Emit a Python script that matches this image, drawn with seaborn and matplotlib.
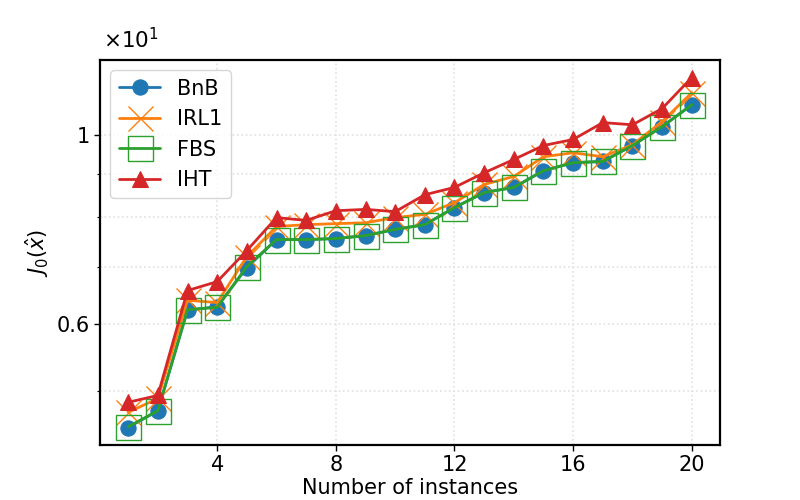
import numpy as np
import pandas as pd
import seaborn as sns
from matplotlib import pyplot as plt
from matplotlib import ticker

# objective value J0 for each instance
instances = list(range(1, 21))
bnb = [4.53, 4.74, 6.22, 6.28, 6.98, 7.53, 7.53, 7.55, 7.61, 7.74,
       7.84, 8.21, 8.55, 8.67, 9.07, 9.27, 9.30, 9.71, 10.22, 10.84]
irl1 = [4.72, 4.90, 6.39, 6.35, 7.19, 7.80, 7.84, 7.86, 7.88, 7.99,
        8.06, 8.32, 8.74, 8.93, 9.42, 9.52, 9.42, 9.73, 10.36, 11.20]
fbs = [4.54, 4.74, 6.23, 6.27, 7.00, 7.53, 7.53, 7.55, 7.61, 7.74,
       7.84, 8.21, 8.55, 8.67, 9.07, 9.27, 9.30, 9.71, 10.22, 10.84]
iht = [4.85, 4.94, 6.56, 6.72, 7.31, 7.99, 7.93, 8.14, 8.17, 8.12,
       8.50, 8.67, 9.02, 9.35, 9.71, 9.87, 10.33, 10.27, 10.73, 11.67]

df = pd.DataFrame({"instance": instances, "BnB": bnb, "IRL1": irl1,
                   "FBS": fbs, "IHT": iht})

sns.set_style("white")
plt.rcParams['font.family'] = ['DejaVu Sans']
plt.rcParams.update({"text.color": "black", "axes.labelcolor": "black",
                     "xtick.color": "black", "ytick.color": "black"})

fig, ax = plt.subplots(figsize=(8, 5), dpi=100)

sns.lineplot(ax=ax, data=df, x="instance", y="BnB", label="BnB", color="tab:blue",
             marker="o", markersize=11, markeredgecolor="tab:blue", linewidth=2)
sns.lineplot(ax=ax, data=df, x="instance", y="IRL1", label="IRL1", color="tab:orange",
             marker="x", markersize=18, markeredgewidth=1,
             markeredgecolor="tab:orange", linewidth=2)
sns.lineplot(ax=ax, data=df, x="instance", y="FBS", label="FBS", color="tab:green",
             marker="s", markersize=18, markerfacecolor="none", markeredgewidth=1,
             markeredgecolor="tab:green", linewidth=2)
sns.lineplot(ax=ax, data=df, x="instance", y="IHT", label="IHT", color="tab:red",
             marker="^", markersize=11, markeredgecolor="tab:red", linewidth=2)

ax.set_yscale("log")
ax.yaxis.set_major_locator(ticker.FixedLocator([6, 10]))
ax.yaxis.set_major_formatter(ticker.FixedFormatter(["0.6", "1"]))
ax.yaxis.set_minor_locator(ticker.FixedLocator([5, 7, 8, 9]))
ax.yaxis.set_minor_formatter(ticker.NullFormatter())
ax.set_xticks([4, 8, 12, 16, 20])

ax.grid(True, which="both", linestyle=":", color="#e0e0e0", linewidth=1.2)
ax.tick_params(axis="both", which="major", labelsize=15, direction="out",
               length=4, width=1, left=True, bottom=True)
ax.tick_params(axis="y", which="minor", length=2.5, width=0.8, left=True)
for s in ax.spines.values():
    s.set_linewidth(1.6)
    s.set_color("black")

ax.set_xlabel("Number of instances", fontsize=15, labelpad=2)
ax.set_ylabel(r"$J_0(\hat{x})$", fontsize=15)
ax.text(0.005, 1.02, r"$\times10^{1}$", transform=ax.transAxes, fontsize=15.5,
        ha="left", va="bottom")

ax.legend(loc="upper left", fontsize=15, handlelength=2, framealpha=0.8)

fig.subplots_adjust(left=0.125, right=0.9, bottom=0.11, top=0.88)
fig.savefig("out.png", dpi=100)
